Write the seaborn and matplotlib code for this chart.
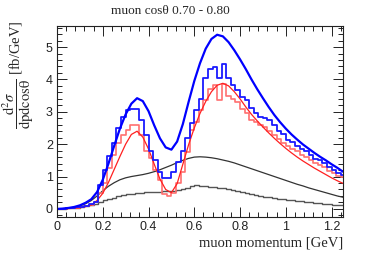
import numpy as np
import pandas as pd
import matplotlib
matplotlib.use("Agg")
import matplotlib.pyplot as plt
from matplotlib.ticker import MultipleLocator
import seaborn as sns

# histogram binning (0.02 GeV bins from 0 to 1.26)
n_bins = 63
bin_range = (0, 1.26)
bin_centers = np.linspace(0.01, 1.25, n_bins)

hist_blue = [0.00, 0.01, 0.02, 0.03, 0.05, 0.07, 0.10, 0.14, 0.22, 0.74,
             1.20, 1.62, 2.03, 2.50, 2.85, 3.05, 3.10, 3.10, 2.74, 2.28,
             1.80, 1.50, 1.14, 0.95, 0.95, 1.15, 1.45, 1.80, 2.20, 2.64,
             3.05, 3.40, 4.05, 4.33, 4.38, 4.05, 4.48, 4.05, 3.82, 3.66,
             3.46, 3.35, 3.12, 2.95, 2.84, 2.80, 2.74, 2.58, 2.40, 2.30,
             2.12, 2.07, 1.95, 1.85, 1.80, 1.66, 1.55, 1.50, 1.41, 1.30,
             1.20, 1.10, 1.05]
hist_red = [0.00, 0.01, 0.02, 0.03, 0.04, 0.06, 0.08, 0.12, 0.22, 0.49,
            0.80, 1.26, 1.66, 2.03, 2.28, 2.43, 2.58, 2.58, 2.28, 1.80,
            1.57, 1.20, 0.89, 0.45, 0.40, 0.50, 0.80, 1.15, 1.76, 2.43,
            2.69, 3.05, 3.35, 3.71, 3.82, 3.35, 3.87, 3.50, 3.40, 3.30,
            3.10, 2.95, 2.74, 2.70, 2.58, 2.53, 2.40, 2.28, 2.15, 2.05,
            1.95, 1.85, 1.78, 1.66, 1.60, 1.50, 1.42, 1.35, 1.28, 1.18,
            1.10, 1.02, 0.98]
hist_gray = [0.00, 0.01, 0.02, 0.03, 0.04, 0.06, 0.08, 0.11, 0.15, 0.20,
             0.26, 0.31, 0.35, 0.39, 0.42, 0.45, 0.47, 0.49, 0.50, 0.51,
             0.52, 0.52, 0.53, 0.54, 0.54, 0.56, 0.58, 0.62, 0.66, 0.70,
             0.74, 0.71, 0.70, 0.69, 0.67, 0.66, 0.64, 0.62, 0.59, 0.56,
             0.53, 0.50, 0.47, 0.44, 0.41, 0.38, 0.36, 0.34, 0.32, 0.30,
             0.28, 0.26, 0.24, 0.23, 0.21, 0.20, 0.18, 0.17, 0.15, 0.14,
             0.13, 0.12, 0.11]

# smooth curves, sampled every 0.025 GeV
curve_p = np.linspace(0, 1.25, 51)
curve_blue = [0.00, 0.01, 0.03, 0.06, 0.11, 0.19, 0.30, 0.52, 0.90, 1.40,
              1.95, 2.48, 2.92, 3.25, 3.42, 3.33, 3.02, 2.58, 2.18, 1.90,
              1.83, 2.08, 2.62, 3.30, 3.95, 4.50, 4.95, 5.25, 5.38, 5.33,
              5.15, 4.90, 4.62, 4.32, 4.00, 3.70, 3.42, 3.15, 2.90, 2.68,
              2.48, 2.30, 2.14, 1.99, 1.86, 1.73, 1.61, 1.50, 1.38, 1.27,
              1.15]
curve_red = [0.00, 0.00, 0.01, 0.02, 0.04, 0.07, 0.12, 0.26, 0.48, 0.82,
             1.22, 1.62, 2.00, 2.30, 2.40, 2.22, 1.85, 1.38, 0.92, 0.60,
             0.50, 0.78, 1.38, 1.98, 2.50, 2.95, 3.32, 3.62, 3.82, 3.88,
             3.80, 3.62, 3.40, 3.15, 2.92, 2.72, 2.53, 2.35, 2.18, 2.02,
             1.87, 1.73, 1.60, 1.48, 1.37, 1.26, 1.16, 1.06, 0.96, 0.87,
             0.79]
curve_gray = [0.00, 0.01, 0.02, 0.05, 0.09, 0.16, 0.26, 0.40, 0.56, 0.70,
              0.81, 0.90, 0.96, 1.00, 1.03, 1.06, 1.10, 1.15, 1.21, 1.28,
              1.35, 1.43, 1.50, 1.56, 1.60, 1.61, 1.60, 1.58, 1.55, 1.51,
              1.47, 1.42, 1.36, 1.30, 1.24, 1.18, 1.12, 1.06, 1.00, 0.94,
              0.88, 0.82, 0.76, 0.71, 0.65, 0.60, 0.55, 0.50, 0.45, 0.40,
              0.36]

hists = pd.DataFrame({"p": bin_centers, "blue": hist_blue,
                      "red": hist_red, "gray": hist_gray})
curves = pd.DataFrame({"p": curve_p, "blue": curve_blue,
                       "red": curve_red, "gray": curve_gray})

sns.set_style("ticks")
plt.rcParams["font.family"] = ["Liberation Sans", "DejaVu Sans"]
plt.rcParams["mathtext.fontset"] = "stix"

fig = plt.figure(figsize=(3.82, 2.60), dpi=100)
ax = fig.add_axes([57 / 382, 43 / 260, 286 / 382, 191 / 260])

# (histogram colour, curve colour, hist width, curve width)
styles = {
    "gray": ("#555555", "#333333", 1.0, 0.9),
    "red": ("#ff7070", "#ff2020", 1.2, 0.9),
    "blue": ("#1a1aff", "#0000ff", 1.3, 1.6),
}
for key, (hc, cc, hw, cw) in styles.items():
    sns.histplot(data=hists, x="p", weights=key, bins=n_bins, binrange=bin_range,
                 element="step", fill=False, color=hc, linewidth=hw, ax=ax)
    sns.lineplot(data=curves, x="p", y=key, color=cc, linewidth=cw, ax=ax)

ax.set_xlim(0, 1.25)
ax.set_ylim(-0.25, 5.65)
ax.set_xlabel("")
ax.set_ylabel("")
ax.xaxis.set_minor_locator(MultipleLocator(0.04))
ax.yaxis.set_major_locator(MultipleLocator(1))
ax.yaxis.set_minor_locator(MultipleLocator(0.2))
ax.set_xticks([0, 0.2, 0.4, 0.6, 0.8, 1.0, 1.2])
ax.set_xticklabels(["0", "0.2", "0.4", "0.6", "0.8", "1", "1.2"])
ax.tick_params(which="both", direction="in", top=True, right=True,
               labelsize=9, width=0.7, colors="#222222")
ax.tick_params(which="major", length=7, pad=3)
ax.tick_params(which="minor", length=3.5)
for s in ax.spines.values():
    s.set_linewidth(0.8)
    s.set_color("#222222")

serif = ["Liberation Serif", "DejaVu Serif"]
fig.text(170 / 382, 1 - 11 / 260, "muon cos\u03b8 0.70 - 0.80",
         ha="center", va="center", fontsize=9.5, family=serif)
fig.text(343 / 382, 1 - 243 / 260, "muon momentum [GeV]",
         ha="right", va="center", fontsize=10.5, family=serif)
fig.text(18 / 382, 1 - 20 / 260,
         r"$\dfrac{\mathrm{d}^2\sigma}{\mathrm{dpdcos\theta}}$ [fb/GeV]",
         rotation=90, ha="center", va="top", fontsize=10.5, family=serif)

fig.savefig("out.png", dpi=100)
